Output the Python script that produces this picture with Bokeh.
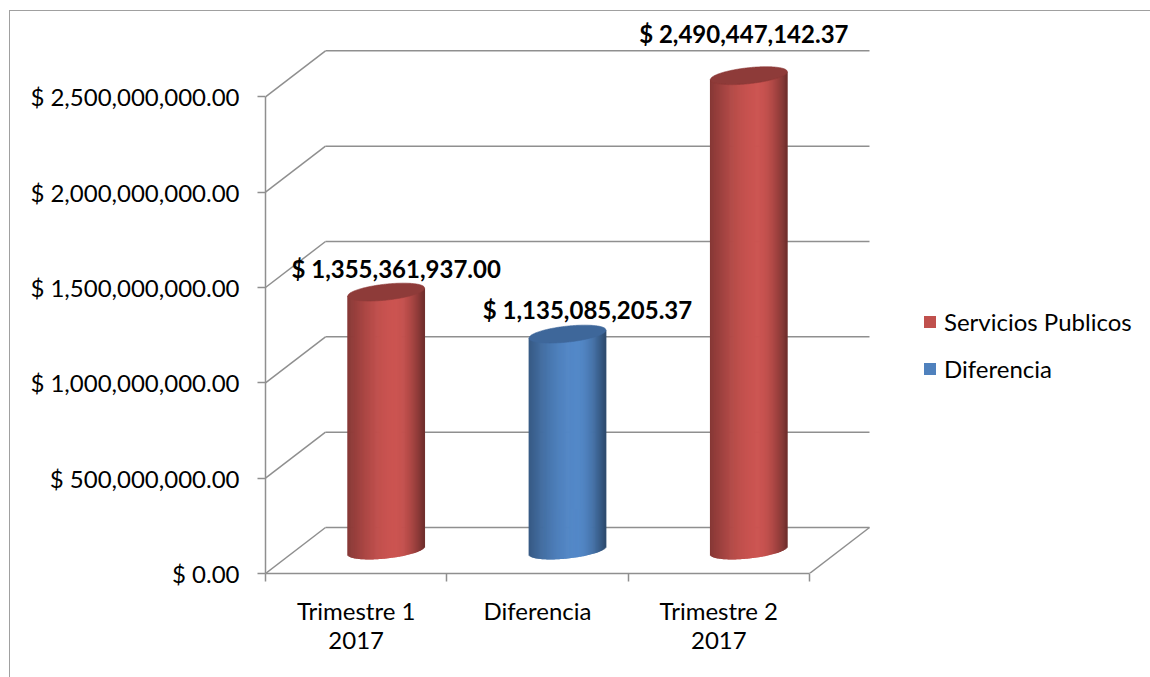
import numpy as np
from bokeh.plotting import figure
from bokeh.models import Range1d, FixedTicker, Legend, LegendItem
from bokeh.core.properties import value
from bokeh.embed import file_html
from bokeh.resources import INLINE

# ---------------- data ----------------
categories = ["Trimestre 1\n2017", "Diferencia", "Trimestre 2\n2017"]
values = [1355361937.00, 1135085205.37, 2490447142.37]
bar_series = ["Servicios Publicos", "Diferencia", "Servicios Publicos"]
value_labels = ["$ 1,355,361,937.00", "$ 1,135,085,205.37", "$ 2,490,447,142.37"]
y_ticks = [0, 500000000, 1000000000, 1500000000, 2000000000, 2500000000]
y_tick_labels = ["$ 0.00", "$ 500,000,000.00", "$ 1,000,000,000.00",
                 "$ 1,500,000,000.00", "$ 2,000,000,000.00", "$ 2,500,000,000.00"]
legend_names = ["Servicios Publicos", "Diferencia"]

# ---------------- styling / layout ----------------
FONT = "Lato"
FS = "24px"
series_colors = {"Servicios Publicos": (192, 80, 77), "Diferencia": (79, 129, 189)}
cap_colors = {"Servicios Publicos": "#8e3b39", "Diferencia": "#3e679a"}
label_nudge_x = [10, 20, -5]      # px
label_nudge_y = [-24, -25, -42]   # px
GRID = "#8f8f8f"

LEFT, BOTTOM = 265, 104
FRAME_W, FRAME_H = 1150 - LEFT, 677 - BOTTOM
PX_PER_CAT = 181.33
PX_PER_VAL = 95.33 / 5e8

DX = 60 / PX_PER_CAT          # depth offset in category units
DY = 46 / PX_PER_VAL          # depth offset in value units
BAR_W = 77 / PX_PER_CAT
CAP_B = 8 / PX_PER_VAL
TILT = 4 / PX_PER_VAL

p = figure(frame_width=FRAME_W, frame_height=FRAME_H,
           min_border_left=LEFT, min_border_bottom=BOTTOM,
           min_border_top=0, min_border_right=0,
           x_range=Range1d(0, FRAME_W / PX_PER_CAT),
           y_range=Range1d(0, FRAME_H / PX_PER_VAL),
           output_backend="svg", toolbar_location=None,
           background_fill_color="white", border_fill_color="white")
p.outline_line_color = None
p.xgrid.visible = False
p.ygrid.visible = False

# outer chart border (left and top edges) drawn over the canvas
p.stylesheets = [
    ":host { position: relative; }"
    " :host::after { content: ''; position: absolute; left: 9px; top: 10px;"
    " right: 0px; bottom: 0px; border-left: 1.5px solid #a0a0a0;"
    " border-top: 1.5px solid #a0a0a0; pointer-events: none; z-index: 5; }"
]

# ---- axes ----
yax = p.yaxis[0]
yax.ticker = FixedTicker(ticks=y_ticks, minor_ticks=[])
yax.major_label_overrides = {t: s for t, s in zip(y_ticks, y_tick_labels)}
yax.bounds = (y_ticks[0], y_ticks[-1])
yax.axis_line_color = GRID
yax.axis_line_width = 1.5
yax.major_tick_line_color = GRID
yax.major_tick_line_width = 1.5
yax.major_tick_out = 8
yax.major_tick_in = 0
yax.minor_tick_out = 0
yax.minor_tick_in = 0
yax.major_label_standoff = 18
yax.major_label_text_font = FONT
yax.major_label_text_font_size = FS
yax.major_label_text_color = "black"

cat_pos = [i + 0.5 for i in range(len(categories))]
xax = p.xaxis[0]
xax.ticker = FixedTicker(ticks=cat_pos, minor_ticks=list(range(len(categories) + 1)))
xax.major_label_overrides = {c: s for c, s in zip(cat_pos, categories)}
xax.bounds = (0, len(categories))
xax.axis_line_color = GRID
xax.axis_line_width = 1.5
xax.major_tick_out = 0
xax.major_tick_in = 0
xax.minor_tick_line_color = GRID
xax.minor_tick_line_width = 1.5
xax.minor_tick_out = 8
xax.minor_tick_in = 0
xax.major_label_standoff = 14
xax.major_label_text_font = FONT
xax.major_label_text_font_size = FS
xax.major_label_text_line_height = 1.0
xax.major_label_text_color = "black"

# ---- 3D walls / floor ----
n = len(categories)
p.segment(x0=[DX] * len(y_ticks), y0=[t + DY for t in y_ticks],
          x1=[n + DX] * len(y_ticks), y1=[t + DY for t in y_ticks],
          line_color=GRID, line_width=1.5)
p.segment(x0=[0] * len(y_ticks), y0=y_ticks,
          x1=[DX] * len(y_ticks), y1=[t + DY for t in y_ticks],
          line_color=GRID, line_width=1.5)
p.segment(x0=[n], y0=[0], x1=[n + DX], y1=[DY], line_color=GRID, line_width=1.5)


def shade_factor(u):
    if u < 0.25:
        return 0.70 + 0.36 * np.sin(np.pi / 2 * (u + 1) / 1.25)
    return 0.58 + 0.48 * np.cos(np.pi / 2 * (u - 0.25) / 0.75)


def to_hex(rgb, f=1.0):
    r, g, b = [int(max(0, min(255, c * f))) for c in rgb]
    return "#%02x%02x%02x" % (r, g, b)


N = 80
base = DY / 2
bar_renderers = []
u = -1 + (2 * np.arange(N) + 1) / N
factors = [shade_factor(uu) for uu in u]
legend_index = int(np.argmin([abs(f - 1.0) for f in factors]))
for i, (v, s) in enumerate(zip(values, bar_series)):
    cx = i + 0.5 + DX / 2
    xs = cx + u * BAR_W / 2
    bots = base + u * TILT - CAP_B * np.sqrt(1 - u ** 2)
    tops = v + base + u * TILT
    cols = [to_hex(series_colors[s], f) for f in factors]
    cols[legend_index] = to_hex(series_colors[s])
    r = p.vbar(x=xs, width=BAR_W / N * 1.8, bottom=bots, top=tops,
               fill_color=cols, line_color=None)
    bar_renderers.append(r)
    uu = np.linspace(-1, 1, 100)
    up = v + base + uu * TILT + CAP_B * np.sqrt(1 - uu ** 2)
    lo = v + base + uu * TILT - CAP_B * np.sqrt(1 - uu ** 2)
    px = np.concatenate([cx + uu * BAR_W / 2, (cx + uu * BAR_W / 2)[::-1]])
    py = np.concatenate([up, lo[::-1]])
    p.patch(x=px, y=py, fill_color=cap_colors[s], line_color=cap_colors[s], line_width=0.6)

# ---- data labels ----
p.text(x=[i + 0.5 + DX / 2 for i in range(n)], y=[v + base for v in values],
       text=value_labels, x_offset=label_nudge_x, y_offset=label_nudge_y,
       text_align="center", text_baseline="middle",
       text_font=value(FONT), text_font_style="bold", text_font_size=FS,
       text_color="black")

# ---- legend ----
items = []
for name in legend_names:
    r = bar_renderers[bar_series.index(name)]
    items.append(LegendItem(label=name, renderers=[r], index=legend_index))
legend = Legend(items=items, location=(657, 190), orientation="vertical",
                padding=0, margin=0, border_line_color=None, background_fill_alpha=0,
                glyph_width=15, glyph_height=15, label_standoff=7, spacing=18,
                label_text_font=FONT, label_text_font_size=FS, label_height=20,
                label_text_color="black")
p.add_layout(legend, "center")

open("out.html", "w").write(file_html(p, INLINE))
